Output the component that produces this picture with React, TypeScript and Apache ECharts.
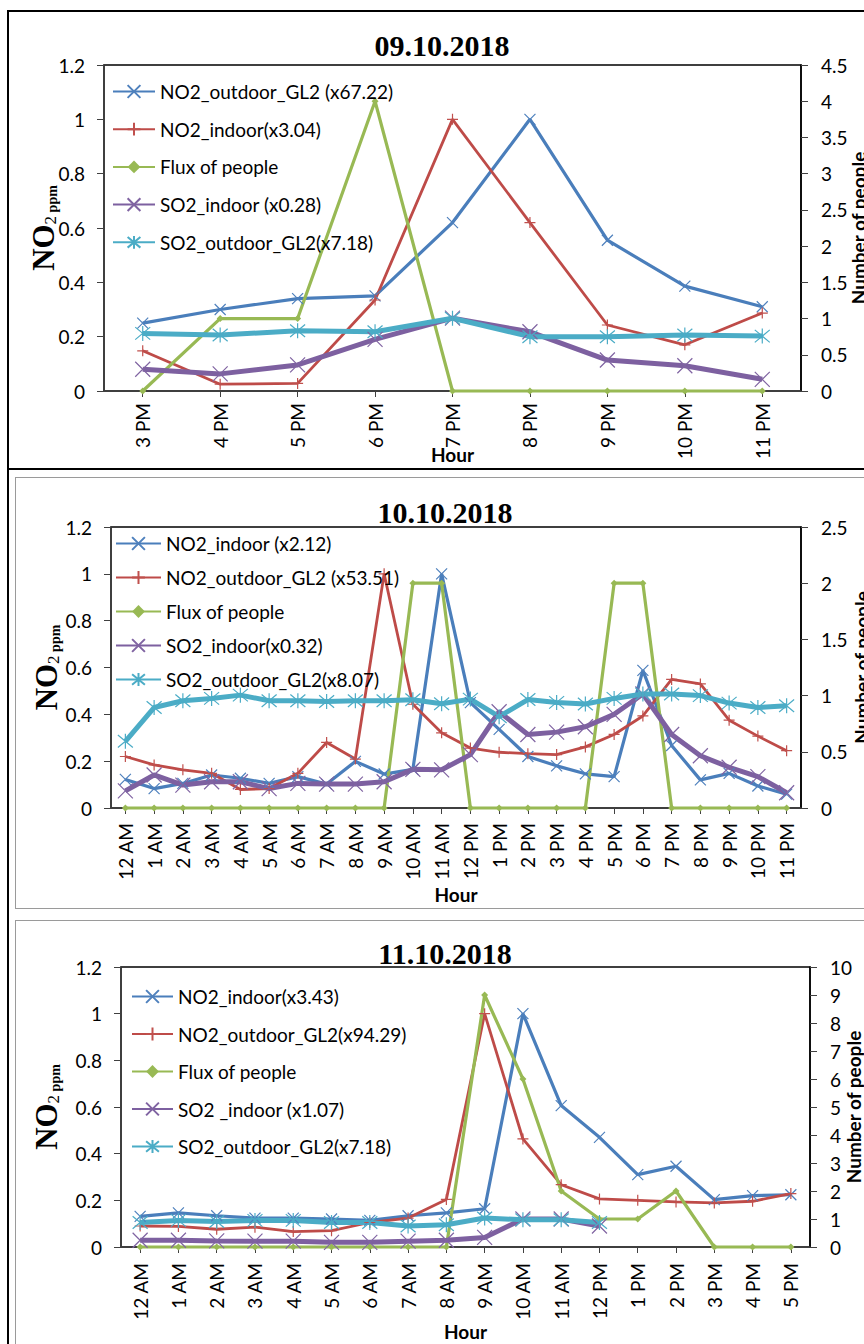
import { useEffect, useRef } from 'react';
import * as echarts from 'echarts';

// ---------- categories ----------
const hours1 = ['3 PM', '4 PM', '5 PM', '6 PM', '7 PM', '8 PM', '9 PM', '10 PM', '11 PM'];
const hours2 = ['12 AM', '1 AM', '2 AM', '3 AM', '4 AM', '5 AM', '6 AM', '7 AM', '8 AM', '9 AM', '10 AM', '11 AM',
  '12 PM', '1 PM', '2 PM', '3 PM', '4 PM', '5 PM', '6 PM', '7 PM', '8 PM', '9 PM', '10 PM', '11 PM'];
const hours3 = ['12 AM', '1 AM', '2 AM', '3 AM', '4 AM', '5 AM', '6 AM', '7 AM', '8 AM', '9 AM', '10 AM', '11 AM',
  '12 PM', '1 PM', '2 PM', '3 PM', '4 PM', '5 PM'];

// ---------- 09.10.2018 ----------
const p1NO2Outdoor = [0.25, 0.3, 0.34, 0.35, 0.62, 1.0, 0.555, 0.386, 0.31];
const p1NO2Indoor = [0.148, 0.025, 0.028, 0.335, 1.0, 0.62, 0.243, 0.17, 0.287];
const p1Flux = [0, 1, 1, 4, 0, 0, 0, 0, 0];
const p1SO2Indoor = [0.08, 0.063, 0.096, 0.19, 0.268, 0.218, 0.114, 0.093, 0.043];
const p1SO2Outdoor = [0.212, 0.206, 0.222, 0.218, 0.268, 0.2, 0.2, 0.206, 0.202];

// ---------- 10.10.2018 ----------
const p2NO2Indoor = [0.122, 0.083, 0.105, 0.141, 0.127, 0.105, 0.134, 0.102, 0.199, 0.145, 0.165, 1.0,
  0.45, 0.336, 0.22, 0.18, 0.146, 0.134, 0.588, 0.267, 0.12, 0.148, 0.094, 0.059];
const p2NO2Outdoor = [0.22, 0.184, 0.163, 0.148, 0.079, 0.083, 0.148, 0.28, 0.209, 1.0, 0.443, 0.321,
  0.256, 0.238, 0.232, 0.228, 0.261, 0.314, 0.393, 0.549, 0.53, 0.375, 0.307, 0.245];
const p2Flux = [0, 0, 0, 0, 0, 0, 0, 0, 0, 0, 2, 2, 0, 0, 0, 0, 0, 2, 2, 0, 0, 0, 0, 0];
const p2SO2Indoor = [0.073, 0.141, 0.098, 0.112, 0.112, 0.083, 0.105, 0.102, 0.102, 0.112, 0.165, 0.163,
  0.228, 0.411, 0.314, 0.324, 0.347, 0.4, 0.487, 0.314, 0.223, 0.174, 0.134, 0.065];
const p2SO2Outdoor = [0.285, 0.429, 0.458, 0.468, 0.482, 0.458, 0.458, 0.455, 0.458, 0.458, 0.462, 0.445,
  0.465, 0.39, 0.463, 0.451, 0.444, 0.468, 0.487, 0.487, 0.48, 0.448, 0.429, 0.437];

// ---------- 11.10.2018 ----------
const p3NO2Indoor = [0.131, 0.146, 0.134, 0.124, 0.124, 0.12, 0.114, 0.134, 0.146, 0.164, 1.0, 0.606,
  0.47, 0.31, 0.346, 0.203, 0.22, 0.224];
const p3NO2Outdoor = [0.09, 0.088, 0.076, 0.085, 0.066, 0.07, 0.105, 0.124, 0.204, 1.0, 0.463, 0.267,
  0.206, 0.2, 0.193, 0.189, 0.196, 0.229];
const p3Flux = [0, 0, 0, 0, 0, 0, 0, 0, 0, 9, 6, 2, 1, 1, 2, 0, 0, 0];
const p3SO2Indoor = [0.029, 0.029, 0.026, 0.025, 0.025, 0.02, 0.02, 0.025, 0.029, 0.041, 0.12, 0.12, 0.09];
const p3SO2Outdoor = [0.105, 0.114, 0.109, 0.114, 0.114, 0.105, 0.105, 0.09, 0.095, 0.124, 0.117, 0.117, 0.105];

const SANS = 'Lato';
const SERIF = '"Liberation Serif", "Times New Roman", serif';

const X_PATH = 'path://M0,0L10,10M10,0L0,10';
const PLUS_PATH = 'path://M5,0L5,10M0,5L10,5';
const STAR_PATH = 'path://M0,0L10,10M10,0L0,10M5,-1L5,11';

const STYLES: Record<string, any> = {
  blue: { color: '#4A7EBB', width: 3.2, symbol: X_PATH, size: 11, marker: '#4F81BD', bw: 1.2 },
  red: { color: '#BE4B48', width: 2.8, symbol: PLUS_PATH, size: 11, marker: '#C0504D', bw: 1.2 },
  green: { color: '#98B954', width: 3.2, symbol: 'diamond', size: 7, marker: '#98B954', bw: 0 },
  purple: { color: '#7D60A0', width: 5, symbol: X_PATH, size: 15, marker: '#8064A2', bw: 1.2 },
  cyan: { color: '#4BACC6', width: 5, symbol: STAR_PATH, size: 15, marker: '#4BACC6', bw: 1.2 },
};

function mkSeries(name: string, data: number[], kind: string, yAxisIndex = 0) {
  const s = STYLES[kind];
  return {
    type: 'line',
    name,
    data,
    yAxisIndex,
    symbol: s.symbol,
    symbolSize: s.size,
    showAllSymbol: true,
    clip: false,
    lineStyle: { color: s.color, width: s.width },
    itemStyle: {
      color: kind === 'green' ? s.marker : 'rgba(0,0,0,0)',
      borderColor: s.marker,
      borderWidth: s.bw,
    },
    emphasis: { disabled: true },
  };
}

interface PanelCfg {
  title: string;
  titleX: number;
  titleY: number;
  cats: string[];
  series: any[];
  rightMax: number;
  rightInterval: number;
  grid: { left: number; top: number; width: number; height: number };
  legend: { left: number; top: number; itemGap: number; itemWidth: number };
  leftNameGap: number;
  rightNameGap: number;
  hourGap: number;
  xLabelMargin: number;
}

function buildOption(c: PanelCfg) {
  const axisLine = { show: true, lineStyle: { color: '#404040', width: 1.5 } };
  return {
    animation: false,
    graphic: [
      {
        type: 'text',
        x: c.titleX,
        y: c.titleY,
        style: {
          text: c.title,
          font: `bold 30px ${SERIF}`,
          fill: '#000',
          textAlign: 'center',
          textVerticalAlign: 'middle',
        },
      },
    ],
    grid: {
      left: c.grid.left,
      top: c.grid.top,
      width: c.grid.width,
      height: c.grid.height,
      containLabel: false,
      outerBoundsMode: 'none',
      show: true,
      borderColor: '#000',
      borderWidth: 1.5,
      backgroundColor: 'transparent',
    },
    legend: {
      orient: 'vertical',
      left: c.legend.left,
      top: c.legend.top,
      padding: 0,
      itemWidth: c.legend.itemWidth,
      itemHeight: 16,
      itemGap: c.legend.itemGap,
      selectedMode: false,
      textStyle: { fontFamily: SANS, fontSize: 19, color: '#000' },
      data: c.series.map((s) => s.name),
    },
    xAxis: {
      type: 'category',
      data: c.cats,
      boundaryGap: true,
      name: 'Hour',
      nameLocation: 'middle',
      nameGap: c.hourGap,
      nameMoveOverlap: false,
      nameTextStyle: { fontFamily: SANS, fontSize: 19, fontWeight: 'bold', color: '#000' },
      axisLine,
      axisTick: { show: true, alignWithLabel: true, length: 6, lineStyle: { color: '#404040' } },
      axisLabel: { rotate: 90, fontFamily: SANS, fontSize: 19, color: '#000', margin: c.xLabelMargin, interval: 0 },
      splitLine: { show: false },
    },
    yAxis: [
      {
        type: 'value',
        min: 0,
        max: 1.2,
        interval: 0.2,
        position: 'left',
        name: '{a|NO}{b|2}{c| ppm}',
        nameLocation: 'middle',
        nameRotate: 90,
        nameGap: c.leftNameGap,
        nameMoveOverlap: false,
        nameTextStyle: {
          rich: {
            a: { fontFamily: SERIF, fontWeight: 'bold', fontSize: 31, lineHeight: 32, color: '#000' },
            b: { fontFamily: SERIF, fontSize: 17, lineHeight: 16, verticalAlign: 'bottom', color: '#000' },
            c: { fontFamily: SERIF, fontWeight: 'bold', fontSize: 14, lineHeight: 14, verticalAlign: 'bottom', color: '#000' },
          },
        },
        axisLine,
        axisTick: { show: true, length: 7, lineStyle: { color: '#404040' } },
        axisLabel: { fontFamily: SANS, fontSize: 19, color: '#000', margin: 19 },
        splitLine: { show: false },
      },
      {
        type: 'value',
        min: 0,
        max: c.rightMax,
        interval: c.rightInterval,
        position: 'right',
        name: 'Number of people',
        nameLocation: 'middle',
        nameRotate: 90,
        nameGap: c.rightNameGap,
        nameMoveOverlap: false,
        nameTextStyle: { fontFamily: SANS, fontSize: 19, fontWeight: 'bold', color: '#000' },
        axisLine: { show: true, lineStyle: { color: '#000', width: 1.5 } },
        axisTick: { show: true, length: 7, lineStyle: { color: '#404040' } },
        axisLabel: { fontFamily: SANS, fontSize: 19, color: '#000', margin: 20 },
        splitLine: { show: false },
      },
    ],
    series: c.series,
  };
}

const panel1: PanelCfg = {
  title: '09.10.2018',
  titleX: 442,
  titleY: 45,
  cats: hours1,
  series: [
    mkSeries('NO2_outdoor_GL2 (x67.22)', p1NO2Outdoor, 'blue'),
    mkSeries('NO2_indoor(x3.04)', p1NO2Indoor, 'red'),
    mkSeries('Flux of people', p1Flux, 'green', 1),
    mkSeries('SO2_indoor (x0.28)', p1SO2Indoor, 'purple'),
    mkSeries('SO2_outdoor_GL2(x7.18)', p1SO2Outdoor, 'cyan'),
  ],
  rightMax: 4.5,
  rightInterval: 0.5,
  grid: { left: 104, top: 65, width: 697, height: 326 },
  legend: { left: 112, top: 82, itemGap: 18.7, itemWidth: 42 },
  leftNameGap: 45,
  rightNameGap: 48,
  hourGap: 54,
  xLabelMargin: 12,
};

const panel2: PanelCfg = {
  title: '10.10.2018',
  titleX: 445,
  titleY: 42,
  cats: hours2,
  series: [
    mkSeries('NO2_indoor (x2.12)', p2NO2Indoor, 'blue'),
    mkSeries('NO2_outdoor_GL2 (x53.51)', p2NO2Outdoor, 'red'),
    mkSeries('Flux of people', p2Flux, 'green', 1),
    mkSeries('SO2_indoor(x0.32)', p2SO2Indoor, 'purple'),
    mkSeries('SO2_outdoor_GL2(x8.07)', p2SO2Outdoor, 'cyan'),
  ],
  rightMax: 2.5,
  rightInterval: 0.5,
  grid: { left: 111, top: 57, width: 690, height: 281 },
  legend: { left: 115, top: 64, itemGap: 15, itemWidth: 45 },
  leftNameGap: 49,
  rightNameGap: 51,
  hourGap: 77,
  xLabelMargin: 15,
};

const panel3: PanelCfg = {
  title: '11.10.2018',
  titleX: 445,
  titleY: 43,
  cats: hours3,
  series: [
    mkSeries('NO2_indoor(x3.43)', p3NO2Indoor, 'blue'),
    mkSeries('NO2_outdoor_GL2(x94.29)', p3NO2Outdoor, 'red'),
    mkSeries('Flux of people', p3Flux, 'green', 1),
    mkSeries('SO2 _indoor (x1.07)', p3SO2Indoor, 'purple'),
    mkSeries('SO2_outdoor_GL2(x7.18)', p3SO2Outdoor, 'cyan'),
  ],
  rightMax: 10,
  rightInterval: 1,
  grid: { left: 121, top: 57, width: 689, height: 280 },
  legend: { left: 131, top: 77, itemGap: 18.5, itemWidth: 41 },
  leftNameGap: 59,
  rightNameGap: 34,
  hourGap: 75,
  xLabelMargin: 16,
};

function Panel({ cfg, top, height }: { cfg: PanelCfg; top: number; height: number }) {
  const ref = useRef<HTMLDivElement>(null);
  useEffect(() => {
    if (!ref.current) return;
    const chart = echarts.init(ref.current, undefined, { renderer: 'svg' });
    chart.setOption(buildOption(cfg) as any);
    return () => chart.dispose();
  }, [cfg]);
  return (
    <div
      ref={ref}
      style={{ position: 'absolute', left: 0, top, width: 864, height }}
    />
  );
}

export default function App() {
  return (
    <div
      style={{
        position: 'fixed',
        left: 0,
        top: 0,
        width: 864,
        height: 1344,
        overflow: 'hidden',
        background: '#fff',
      }}
    >
      {/* frames */}
      <div style={{ position: 'absolute', left: 7, top: 10, width: 900, height: 456, border: '2px solid #000' }} />
      <div style={{ position: 'absolute', left: 7, top: 468, width: 2, height: 880, background: '#000' }} />
      <div style={{ position: 'absolute', left: 15, top: 477, width: 900, height: 430, border: '1px solid #9a9a9a' }} />
      <div style={{ position: 'absolute', left: 15, top: 920, width: 900, height: 500, border: '1px solid #9a9a9a' }} />
      <Panel cfg={panel1} top={0} height={470} />
      <Panel cfg={panel2} top={470} height={440} />
      <Panel cfg={panel3} top={910} height={434} />
    </div>
  );
}
